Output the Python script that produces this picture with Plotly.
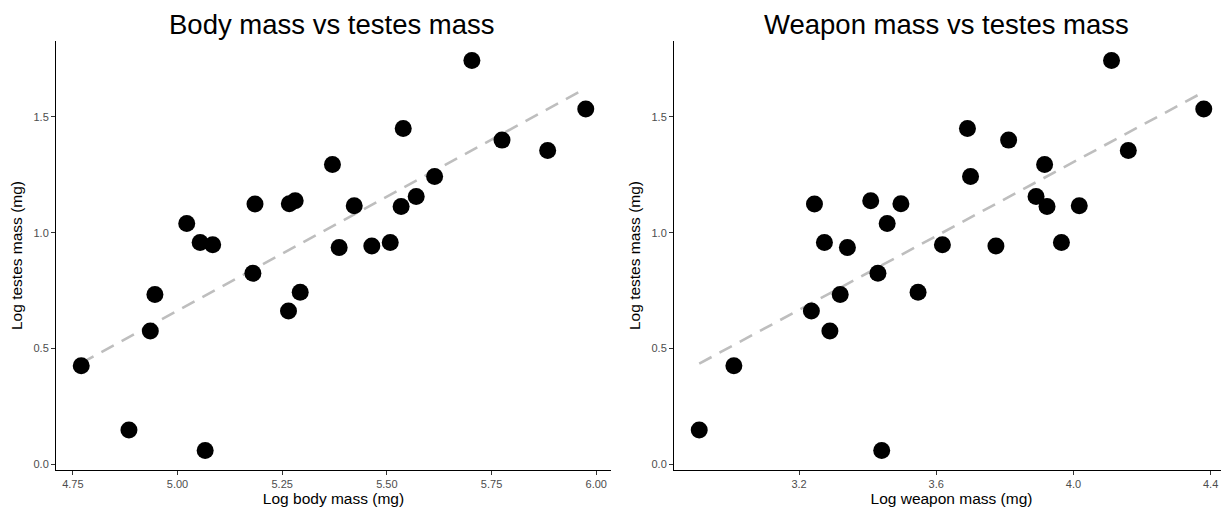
import numpy as np
import plotly.graph_objects as go

# Data
log_testes = [0.148, 0.425, 0.575, 0.733, 0.662, 0.743, 0.825, 0.059, 1.040, 1.124,
              1.125, 1.138, 1.744, 1.534, 1.450, 1.295, 1.400, 1.355, 1.243, 1.156,
              1.113, 1.116, 0.936, 0.943, 0.948, 0.958, 0.958]
log_body = [4.884, 4.770, 4.935, 4.946, 5.265, 5.293, 5.180, 5.066, 5.022, 5.185,
            5.267, 5.281, 5.703, 5.975, 5.539, 5.370, 5.775, 5.884, 5.614, 5.570,
            5.534, 5.422, 5.386, 5.464, 5.084, 5.054, 5.508]
log_weapon = [2.909, 3.010, 3.290, 3.320, 3.236, 3.547, 3.430, 3.441, 3.457, 3.245,
              3.497, 3.409, 4.111, 4.380, 3.691, 3.916, 3.811, 4.160, 3.700, 3.891,
              3.923, 4.017, 3.341, 3.774, 3.618, 3.274, 3.965]

titles = ["Body mass vs testes mass", "Weapon mass vs testes mass"]
x_titles = ["Log body mass (mg)", "Log weapon mass (mg)"]
y_title = "Log testes mass (mg)"
y_ticks = [0.0, 0.5, 1.0, 1.5]
x_ticks_body = [4.75, 5.00, 5.25, 5.50, 5.75, 6.00]
x_ticks_weapon = [3.2, 3.6, 4.0, 4.4]

# page body has an 8px default margin, so the figure is drawn 8px in from the window edge
OFF = 8
W, H = 1229 - OFF, 514 - OFF
FONT = "Liberation Sans, Arial, Helvetica, sans-serif"

def px_x(p):  # screen x pixel -> paper fraction
    return (p - OFF) / W

def px_y(p):  # screen y pixel -> paper fraction
    return 1 - (p - OFF) / H

fig = go.Figure()

def add_panel(xs, ys, xa, ya):
    xs = np.array(xs); ys = np.array(ys)
    b, a = np.polyfit(xs, ys, 1)
    xl = np.array([xs.min(), xs.max()])
    fig.add_trace(go.Scatter(x=xl, y=a + b * xl, mode="lines",
                             line=dict(color="#BEBEBE", width=2.6, dash="14px,9px"),
                             xaxis=xa, yaxis=ya, showlegend=False, hoverinfo="skip"))
    fig.add_trace(go.Scatter(x=xs, y=ys, mode="markers",
                             marker=dict(color="black", size=17, line=dict(width=0)),
                             xaxis=xa, yaxis=ya, showlegend=False))

add_panel(log_body, log_testes, "x", "y")
add_panel(log_weapon, log_testes, "x2", "y2")

def rng(v):
    lo, hi = min(v), max(v)
    d = (hi - lo) * 0.05
    return [lo - d, hi + d]

common_axis = dict(showline=True, linecolor="black", linewidth=1.1, showgrid=False,
                   zeroline=False, ticks="outside", ticklen=4, tickcolor="#333333",
                   tickwidth=1, tickfont=dict(family=FONT, size=11, color="#4D4D4D"),
                   mirror=False, automargin=False)
title_font = dict(family=FONT, size=15.5, color="black")

y_dom = [px_y(470), px_y(41)]
fig.update_layout(
    width=W, height=H,
    margin=dict(l=0, r=0, t=0, b=0),
    paper_bgcolor="white", plot_bgcolor="white",
    font=dict(family=FONT, color="black"),
    xaxis=dict(domain=[px_x(56), px_x(611)], range=rng(log_body), tickvals=x_ticks_body,
               tickformat=".2f", anchor="y",
               title=dict(text=x_titles[0], font=title_font, standoff=3),
               **common_axis),
    yaxis=dict(domain=y_dom, range=rng(log_testes), tickvals=y_ticks, tickformat=".1f",
               anchor="x",
               title=dict(text=y_title, font=title_font, standoff=7),
               **common_axis),
    xaxis2=dict(domain=[px_x(674), 1.0], range=rng(log_weapon), tickvals=x_ticks_weapon,
                tickformat=".1f", anchor="y2",
                title=dict(text=x_titles[1], font=title_font, standoff=3),
                **common_axis),
    yaxis2=dict(domain=y_dom, range=rng(log_testes), tickvals=y_ticks, tickformat=".1f",
                anchor="x2",
                title=dict(text=y_title, font=title_font, standoff=7),
                **common_axis),
    annotations=[
        dict(text=titles[0], x=px_x(332), y=1.0, xref="paper", yref="paper",
             xanchor="center", yanchor="top", showarrow=False, borderpad=0,
             font=dict(family=FONT, size=27.5, color="black")),
        dict(text=titles[1], x=px_x(946), y=1.0, xref="paper", yref="paper",
             xanchor="center", yanchor="top", showarrow=False, borderpad=0,
             font=dict(family=FONT, size=27.5, color="black")),
    ],
)

fig.write_html("out.html")
